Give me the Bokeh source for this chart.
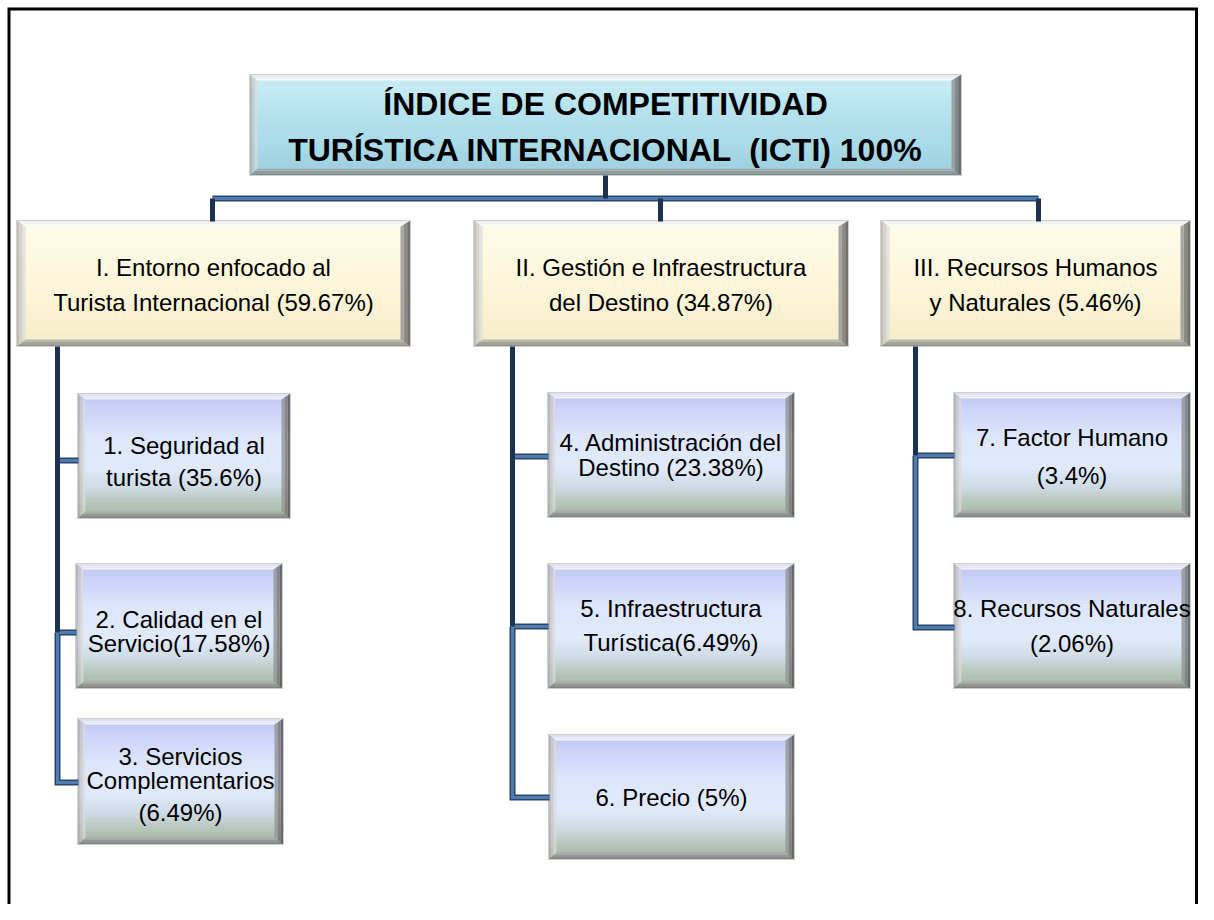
from bokeh.plotting import figure
from bokeh.models import Range1d, ColumnDataSource
from bokeh.embed import file_html
from bokeh.resources import INLINE
from bokeh.core.properties import value

# ---------------- data (texts of the diagram) ----------------
root_lines = ["ÍNDICE DE COMPETITIVIDAD", "TURÍSTICA INTERNACIONAL\u00a0 (ICTI) 100%"]

pillar_lines = [
    ["I. Entorno enfocado al", "Turista Internacional (59.67%)"],
    ["II. Gestión e Infraestructura", "del Destino (34.87%)"],
    ["III. Recursos Humanos", "y Naturales (5.46%)"],
]

factor_lines = [
    ["1. Seguridad al", "turista (35.6%)"],
    ["2. Calidad en el", "Servicio(17.58%)"],
    ["3. Servicios", "Complementarios", "(6.49%)"],
    ["4. Administración del", "Destino (23.38%)"],
    ["5. Infraestructura", "Turística(6.49%)"],
    ["6. Precio (5%)"],
    ["7. Factor Humano", "(3.4%)"],
    ["8. Recursos Naturales", "(2.06%)"],
]
factor_pillar = [0, 0, 0, 1, 1, 1, 2, 2]

# ---------------- layout (pixel coordinates) ----------------
W, H = 1198, 904
X0, Y0 = 0, 0

root_box = (249, 961, 74, 175)
root_text_y = [103, 149]

pillar_boxes = [(16, 410), (473, 848), (880, 1190)]
pillar_y = (220, 346)
pillar_text_y = [267, 302]
pillar_drop_x = [212, 660, 1038]
pillar_stem_x = [57, 512, 915]
root_stem_x = 605
bus_y = 198

# x0, x1, y0, y1, branch_y, text line y's
factor_boxes = [
    (77, 290, 393, 518, 460, [445, 477]),
    (75, 282, 563, 688, 632, [619, 643]),
    (77, 283, 718, 844, 782, [756, 780, 812]),
    (547, 794, 392, 517, 456, [442, 467]),
    (547, 794, 563, 688, 626, [608, 642]),
    (548, 794, 734, 859, 797, [797]),
    (953, 1190, 392, 517, 455, [437, 475]),
    (953, 1190, 563, 688, 627, [608, 643]),
]

FONT = "Liberation Sans"
DARK = "#1c3250"
STEEL_OUT = "#2a4668"
STEEL_IN = "#4f7cb0"

root_stops = [(0, "#cdeef6"), (0.3, "#b8e4ef"), (0.65, "#aadbe8"), (1, "#9ccfdf")]
pillar_stops = [(0, "#fefbea"), (0.5, "#fdf6da"), (1, "#f5ecc8")]
factor_stops = [(0, "#bfc3f2"), (0.12, "#cbd1f8"), (0.35, "#dde6fc"), (0.6, "#e0eafc"),
                (0.75, "#cfdbe4"), (0.88, "#b6c5ba"), (1, "#a0b1a0")]


def hex2rgb(h):
    h = h.lstrip("#")
    return tuple(int(h[i:i + 2], 16) for i in (0, 2, 4))


def rgb2hex(c):
    return "#%02x%02x%02x" % tuple(int(round(v)) for v in c)


def mix(a, b, t):
    ca, cb = hex2rgb(a), hex2rgb(b)
    return rgb2hex([ca[i] + (cb[i] - ca[i]) * t for i in range(3)])


def stop_color(stops, t):
    for (t0, c0), (t1, c1) in zip(stops[:-1], stops[1:]):
        if t0 <= t <= t1:
            return mix(c0, c1, (t - t0) / (t1 - t0) if t1 > t0 else 0)
    return stops[-1][1]


p = figure(width=W, height=H, output_backend="svg", toolbar_location=None,
           x_range=Range1d(X0, X0 + W), y_range=Range1d(Y0 + H, Y0),
           min_border=0, outline_line_color=None, background_fill_color="white",
           border_fill_color="white")
p.axis.visible = False
p.grid.visible = False

grad = dict(left=[], right=[], top=[], bottom=[], color=[])


def add_gradient(box, stops, n=40):
    x0, x1, y0, y1 = box
    h = (y1 - y0) / n
    for k in range(n):
        grad["left"].append(x0)
        grad["right"].append(x1)
        grad["top"].append(y0 + k * h)
        grad["bottom"].append(min(y1, y0 + (k + 1) * h + 0.6))
        grad["color"].append(stop_color(stops, (k + 0.5) / n))


bev = dict(xs=[], ys=[], color=[], alpha=[])
outline = dict(left=[], right=[], top=[], bottom=[])

side_cols = {
    "top": ("#e6e6ec", "#ffffff", 0.85),
    "left": ("#a4a4a4", "#e6e6e6", 0.75),
    "right": ("#4a4a4a", "#a6a6a6", 0.85),
    "bottom": ("#6c6c6c", "#b4b4b4", 0.8),
}


def add_bevel(box, bt=6, bl=8, br=9, bb=7, n=3):
    x0, x1, y0, y1 = box

    def r(k):
        f = k / n
        return (x0 + bl * f, x1 - br * f, y0 + bt * f, y1 - bb * f)

    for k in range(n):
        a0, a1 = r(k), r(k + 1)
        t = (k + 0.5) / n
        polys = {
            "top": ([a0[0], a0[1], a1[1], a1[0]], [a0[2], a0[2], a1[2], a1[2]]),
            "bottom": ([a0[0], a0[1], a1[1], a1[0]], [a0[3], a0[3], a1[3], a1[3]]),
            "left": ([a0[0], a1[0], a1[0], a0[0]], [a0[2], a1[2], a1[3], a0[3]]),
            "right": ([a0[1], a1[1], a1[1], a0[1]], [a0[2], a1[2], a1[3], a0[3]]),
        }
        for side, (xs, ys) in polys.items():
            c_out, c_in, al = side_cols[side]
            bev["xs"].append(xs)
            bev["ys"].append(ys)
            bev["color"].append(mix(c_out, c_in, t))
            bev["alpha"].append(al)
    outline["left"].append(x0)
    outline["right"].append(x1)
    outline["top"].append(y0)
    outline["bottom"].append(y1)


# boxes
add_gradient(root_box, root_stops)
add_bevel(root_box, bt=6, bl=8, br=10, bb=7)
for (bx0, bx1) in pillar_boxes:
    b = (bx0, bx1, pillar_y[0], pillar_y[1])
    add_gradient(b, pillar_stops)
    add_bevel(b, bt=6, bl=9, br=10, bb=7)
for fb in factor_boxes:
    b = fb[:4]
    add_gradient(b, factor_stops)
    add_bevel(b, bt=6, bl=8, br=9, bb=7)

# connectors
dark = dict(xs=[], ys=[])
steel = dict(xs=[], ys=[])
dark["xs"].append([root_stem_x, root_stem_x]); dark["ys"].append([root_box[3], bus_y])
steel["xs"].append([pillar_drop_x[0], pillar_drop_x[-1]]); steel["ys"].append([bus_y, bus_y])
for dx in pillar_drop_x:
    dark["xs"].append([dx, dx]); dark["ys"].append([bus_y, pillar_y[0] + 1])

for pi, sx in enumerate(pillar_stem_x):
    kids = [factor_boxes[i] for i in range(len(factor_boxes)) if factor_pillar[i] == pi]
    branch_ys = [k[4] for k in kids]
    dark["xs"].append([sx, sx]); dark["ys"].append([pillar_y[1], branch_ys[-2]])
    for k in kids[:-1]:
        steel["xs"].append([sx, k[0] + 1]); steel["ys"].append([k[4], k[4]])
    last = kids[-1]
    steel["xs"].append([sx, sx, last[0] + 1]); steel["ys"].append([branch_ys[-2], last[4], last[4]])

p.quad(left="left", right="right", top="top", bottom="bottom", source=ColumnDataSource(grad),
       fill_color="color", line_color=None)
p.patches(xs="xs", ys="ys", source=ColumnDataSource(bev), fill_color="color",
          fill_alpha="alpha", line_color=None)
p.quad(left="left", right="right", top="top", bottom="bottom", source=ColumnDataSource(outline),
       fill_color=None, line_color="#cfcfcf", line_width=1)

p.multi_line(xs="xs", ys="ys", source=ColumnDataSource(steel), line_color=STEEL_OUT,
             line_width=6, line_join="miter")
p.multi_line(xs="xs", ys="ys", source=ColumnDataSource(steel), line_color=STEEL_IN,
             line_width=3, line_join="miter")
p.multi_line(xs="xs", ys="ys", source=ColumnDataSource(dark), line_color=DARK,
             line_width=5, line_join="miter")

# outer frame (left, top, right; bottom lies outside the picture)
p.multi_line(xs=[[8.5, 8.5, W - 2, W - 2]], ys=[[H + 5, 8.5, 8.5, H + 5]],
             line_color="black", line_width=3, line_join="miter")

# texts
tx, ty, tt = [], [], []
for i, ln in enumerate(root_lines):
    tx.append((root_box[0] + root_box[1]) / 2); ty.append(root_text_y[i]); tt.append(ln)
p.text(x=tx, y=ty, text=tt, text_align="center", text_baseline="middle",
       text_font=value(FONT), text_font_style="bold", text_font_size="32px", text_color="black")

tx, ty, tt = [], [], []
for pi, lines in enumerate(pillar_lines):
    cx = (pillar_boxes[pi][0] + pillar_boxes[pi][1]) / 2
    for j, ln in enumerate(lines):
        tx.append(cx); ty.append(pillar_text_y[j]); tt.append(ln)
for fi, lines in enumerate(factor_lines):
    fb = factor_boxes[fi]
    cx = (fb[0] + fb[1]) / 2
    for j, ln in enumerate(lines):
        tx.append(cx); ty.append(fb[5][j]); tt.append(ln)
p.text(x=tx, y=ty, text=tt, text_align="center", text_baseline="middle",
       text_font=value(FONT), text_font_size="24px", text_color="black")

open("out.html", "w").write(file_html(p, INLINE))
